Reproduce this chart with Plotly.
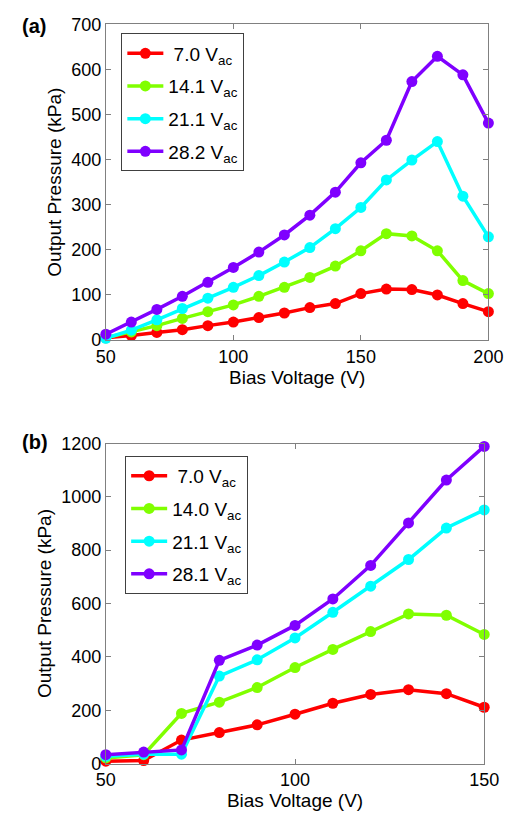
import plotly.graph_objects as go

# Panel (a)
bias_a = [50, 60, 70, 80, 90, 100, 110, 120, 130, 140, 150, 160, 170, 180, 190, 200]
a_7_0 = [5, 10, 17, 23, 32, 40, 50, 60, 72, 81, 103, 113, 112, 100, 81, 63]
a_14_1 = [5, 18, 32, 48, 63, 78, 97, 117, 139, 164, 198, 236, 231, 198, 132, 103]
a_21_1 = [4, 22, 45, 70, 93, 117, 143, 173, 205, 247, 294, 355, 399, 440, 319, 229]
a_28_2 = [13, 40, 68, 97, 128, 161, 195, 233, 277, 328, 393, 443, 573, 629, 588, 481]
labels_a = ["\u00a07.0 V<sub>ac</sub>", "14.1 V<sub>ac</sub>", "21.1 V<sub>ac</sub>", "28.2 V<sub>ac</sub>"]

# Panel (b)
bias_b = [50, 60, 70, 80, 90, 100, 110, 120, 130, 140, 150]
b_7_0 = [9, 11, 88, 116, 145, 185, 226, 259, 277, 262, 211]
b_14_0 = [21, 33, 188, 230, 285, 360, 428, 495, 561, 556, 484]
b_21_1 = [27, 35, 35, 328, 389, 471, 567, 665, 765, 883, 951]
b_28_1 = [33, 43, 51, 387, 444, 518, 617, 743, 902, 1063, 1189]
labels_b = ["\u00a07.0 V<sub>ac</sub>", "14.0 V<sub>ac</sub>", "21.1 V<sub>ac</sub>", "28.1 V<sub>ac</sub>"]

colors = ["#ff0000", "#80ff00", "#00ffff", "#7f00ff"]

W, H = 517, 823
fig = go.Figure()

for i, (ys, lab, c) in enumerate(zip([a_7_0, a_14_1, a_21_1, a_28_2], labels_a, colors)):
    fig.add_trace(go.Scatter(x=bias_a, y=ys, name=lab, mode="lines+markers",
                             line=dict(color=c, width=3.5), marker=dict(color=c, size=11),
                             xaxis="x", yaxis="y", legend="legend", legendgroup=f"a{i}",
                             cliponaxis=False))
for i, (ys, lab, c) in enumerate(zip([b_7_0, b_14_0, b_21_1, b_28_1], labels_b, colors)):
    fig.add_trace(go.Scatter(x=bias_b, y=ys, name=lab, mode="lines+markers",
                             line=dict(color=c, width=3.5), marker=dict(color=c, size=11),
                             xaxis="x2", yaxis="y2", legend="legend2", legendgroup=f"b{i}",
                             cliponaxis=False))

font = dict(family="Liberation Sans, Arial, sans-serif", size=16, color="black")
ax_common = dict(showline=True, linecolor="#808080", linewidth=1, mirror="ticks",
                 ticks="inside", ticklen=5, tickcolor="#808080", showgrid=False,
                 zeroline=False, tickfont=dict(size=18, color="black"))

fig.update_layout(
    width=W, height=H, margin=dict(l=0, r=0, t=0, b=0),
    paper_bgcolor="white", plot_bgcolor="white", font=font,
    xaxis=dict(domain=[100.7 / W, 502.7 / W], range=[50, 200], tickvals=[50, 100, 150, 200],
               anchor="y", title=dict(text="Bias Voltage (V)", standoff=0), **ax_common),
    yaxis=dict(domain=[1 - 338.3 / H, 1 - 14.7 / H], range=[0, 700], dtick=100,
               anchor="x", title=dict(text="Output Pressure (kPa)", standoff=4), **ax_common),
    xaxis2=dict(domain=[100.7 / W, 498.3 / W], range=[50, 150], tickvals=[50, 100, 150],
                anchor="y2", title=dict(text="Bias Voltage (V)", standoff=0), **ax_common),
    yaxis2=dict(domain=[1 - 772.3 / H, 1 - 444.3 / H], range=[0, 1200], dtick=200,
                anchor="x2", title=dict(text="Output Pressure (kPa)", standoff=4), **ax_common),
    legend=dict(x=117 / W, y=1 - 24 / H, xanchor="left", yanchor="top",
                bordercolor="#404040", borderwidth=1, bgcolor="white",
                font=dict(size=19), itemwidth=36, tracegroupgap=5),
    legend2=dict(x=121 / W, y=1 - 457 / H, xanchor="left", yanchor="top",
                 bordercolor="#404040", borderwidth=1, bgcolor="white",
                 font=dict(size=19), itemwidth=36, tracegroupgap=5),
    annotations=[
        dict(text="<b>(a)</b>", x=10 / W, y=1 - 3 / H, xref="paper", yref="paper",
             xanchor="left", yanchor="top", showarrow=False, font=dict(size=20)),
        dict(text="<b>(b)</b>", x=10 / W, y=1 - 429 / H, xref="paper", yref="paper",
             xanchor="left", yanchor="top", showarrow=False, font=dict(size=20)),
    ],
)

fig.write_html("out.html")
